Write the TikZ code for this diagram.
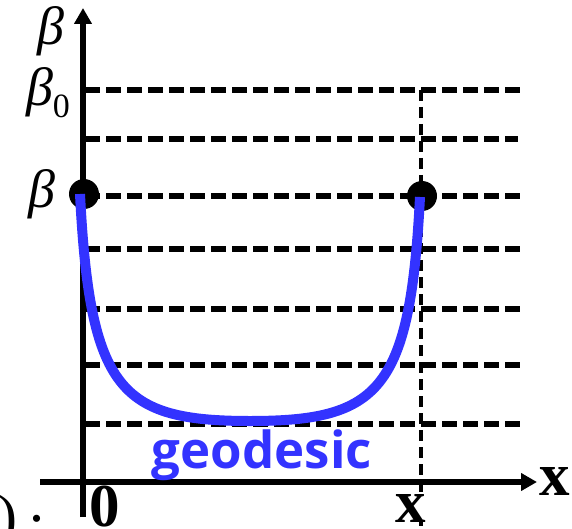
\documentclass[tikz,border=0pt]{standalone}
\usepackage{fontspec}
\setmainfont{Liberation Serif}
\newfontfamily\geofont{Open Sans}
\usetikzlibrary{arrows.meta}
\definecolor{geoblue}{RGB}{51,51,255}
\begin{document}
\begin{tikzpicture}[x=1pt,y=-1pt,
  axis/.style={line width=5.5pt,-{Triangle[length=16pt,width=17pt]}},
  level/.style={line width=5.5pt,dash pattern=on 15pt off 6pt},
  vlevel/.style={line width=4pt,dash pattern=on 11pt off 6pt},
  geo/.style={line width=10pt,draw=geoblue},
  dot/.style={circle,fill=black,minimum size=30pt,inner sep=0pt},
  lab/.style={inner sep=0pt},
  big/.style={font=\fontsize{61}{61}\selectfont\bfseries},
  greek/.style={font=\fontsize{54}{54}\selectfont\itshape}]
\useasboundingbox (0,0) rectangle (572,529);
% dashed levels
\foreach \y/\e in {90/520,139/518,196/522,249/520,309/520,365/520,424/520}
  \draw[level] (85,\y) -- (\e,\y);
\draw[vlevel] (421,90) -- (421,529);
% axes
\coordinate (ybot) at (83,517);
\coordinate (ytop) at (83,8);
\coordinate (xl) at (40,482);
\coordinate (xr) at (537,482);
\draw[axis] (ybot) -- (ytop);
\draw[axis] (xl) -- (xr);
% end points
\node[dot] (dl) at (84,194) {};
\node[dot] (dr) at (422,196) {};
\coordinate (gl) at (80,194);
\coordinate (gm) at (250,421);
\coordinate (gr) at (420,197);
\draw[geo] (gl) .. controls (90,390) and (120,421) .. (gm)
               .. controls (380,421) and (410,390) .. (gr);
% labels
\node[lab,greek] (b1) at (51,31) {β};
\node[lab,greek] (b0) at (48,93) {β\raisebox{-12pt}{\fontsize{34}{34}\selectfont\upshape 0}};
\node[lab,greek] (b2) at (42,194) {β};
\node[lab,big] (zero) at (105,507) {0};
\node[lab,big,fill=white] (xb) at (411,508) {x};
\node[lab,big] (xa) at (555,481) {x};
\node[lab,anchor=base,font=\geofont\fontsize{51}{51}\selectfont\bfseries,text=geoblue] (geo) at (262,468) {geodesic};
\node[lab,anchor=base west,font=\fontsize{60}{60}\selectfont] (rp) at (-3,536) {)};
\node[lab,font=\fontsize{60}{60}\selectfont] (dt) at (37,519) {.};
\end{tikzpicture}
\end{document}
